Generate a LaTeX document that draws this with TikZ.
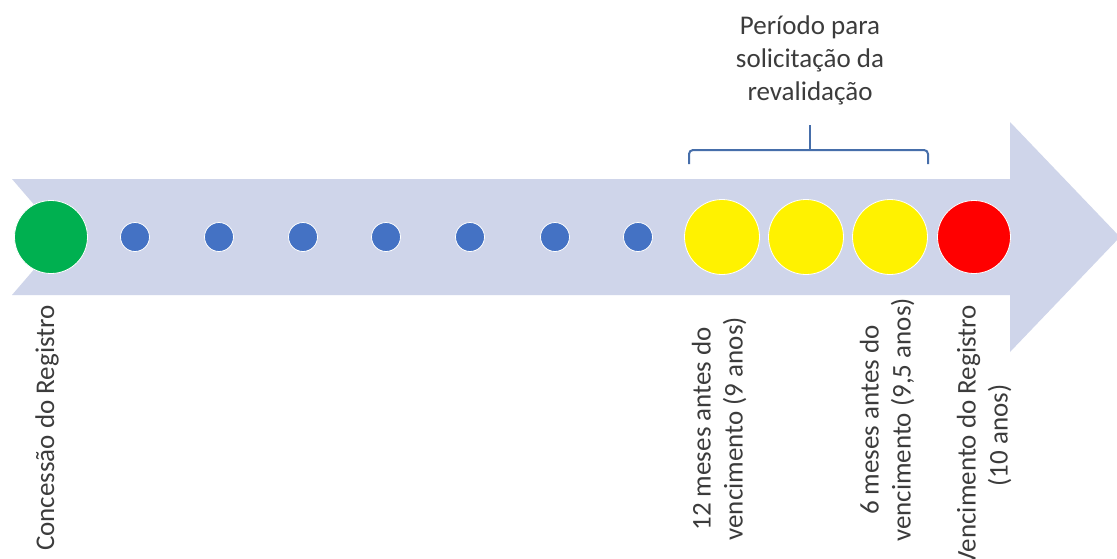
\documentclass[tikz,border=0pt]{standalone}
\usepackage{fontspec}
\setmainfont{Carlito}
\begin{document}
\begin{tikzpicture}[x=1pt,y=-1pt,
  dot/.style={circle,fill=dotblue,draw=white,line width=0.8pt,minimum size=29pt,inner sep=0pt},
  bigdot/.style={circle,draw=white,line width=0.8pt,minimum size=73pt,inner sep=0pt},
  vlabel/.style={rotate=90,anchor=east,inner sep=0pt,align=center,text=txtgray,
    font=\fontsize{27}{32}\selectfont},
  bracketline/.style={draw=brackblue,line width=2pt,rounded corners=4pt}]
\definecolor{arrowfill}{RGB}{207,213,234}
\definecolor{dotblue}{RGB}{68,114,196}
\definecolor{brackblue}{RGB}{70,110,170}
\definecolor{txtgray}{RGB}{60,60,60}
\definecolor{goodgreen}{RGB}{0,176,80}
\useasboundingbox (0,0) rectangle (1117,558);
\fill[white] (0,0) rectangle (1117,558);
% big arrow
\fill[arrowfill] (12,179) -- (1010,179) -- (1010,122) -- (1120,237) -- (1010,352)
  -- (1010,295) -- (12,295) -- (62,237) -- cycle;
% circles
\node[bigdot,fill=goodgreen] (c0) at (51,237) {};
\foreach \i/\x in {1/135,2/219,3/303,4/386,5/470,6/555,7/638}
  \node[dot] (d\i) at (\x,237) {};
\node[bigdot,fill=yellow,minimum size=75pt] (y1) at (722,237) {};
\node[bigdot,fill=yellow,minimum size=75pt] (y2) at (806,237) {};
\node[bigdot,fill=yellow,minimum size=75pt] (y3) at (890,237) {};
\node[bigdot,fill=red] (r1) at (974,237) {};
% bracket
\coordinate (bl) at (689,164);
\coordinate (br) at (928,164);
\coordinate (bm) at (810,150);
\coordinate (bt) at (810,125);
\draw[bracketline] (bl) |- (bm) -| (br);
\draw[bracketline,rounded corners=0pt] (bm) -- (bt);
% title
\node[align=center,text=txtgray,font=\fontsize{27}{33}\selectfont] (title) at (810,60)
  {Período para\\solicitação da\\revalidação};
% vertical labels
\node[vlabel] (l0) at (47,305) {Concessão do Registro};
\node[vlabel] (l1) at (719,317) {12 meses antes do\\vencimento (9 anos)};
\node[vlabel] (l2) at (887,298) {6 meses antes do\\vencimento (9,5 anos)};
\node[vlabel] (l3) at (984,305) {Vencimento do Registro\\(10 anos)};
\end{tikzpicture}
\end{document}
